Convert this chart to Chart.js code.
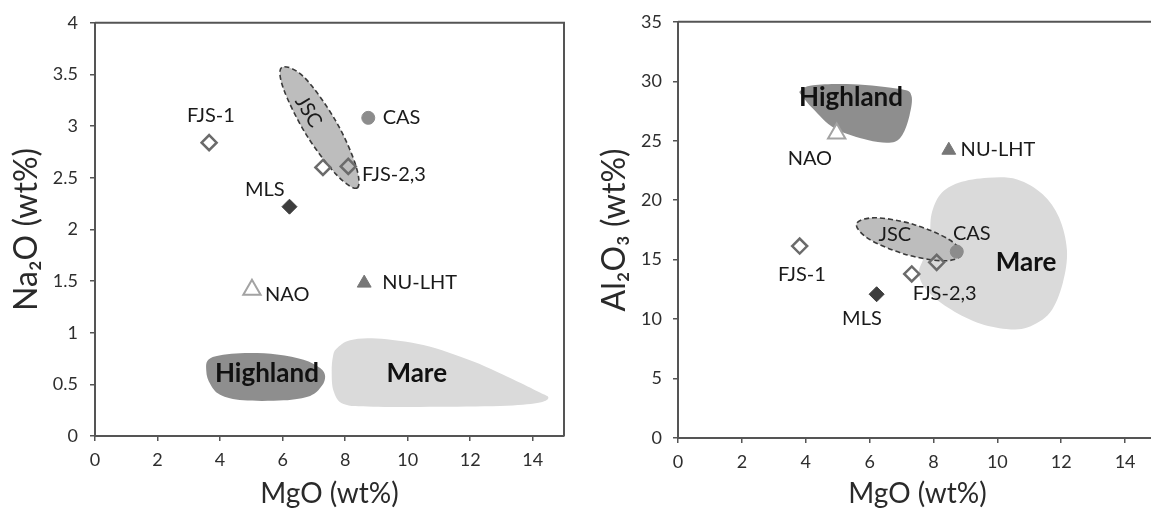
<!DOCTYPE html>
<html>
<head>
<meta charset="utf-8">
<script src="https://cdn.jsdelivr.net/npm/chart.js@4.4.1/dist/chart.umd.min.js"></script>
<style>
  html, body { margin: 0; padding: 0; background: #fff; overflow: hidden; }
  #wrap { position: relative; width: 1151px; height: 513px; overflow: hidden; }
  canvas { position: absolute; top: 0; }
  #naChart { left: 0; }
  #alChart { left: 580px; }
</style>
</head>
<body>
<div id="wrap">
  <canvas id="naChart" width="580" height="513"></canvas>
  <canvas id="alChart" width="600" height="513"></canvas>
</div>
<script>
'use strict';

const samples = ['FJS-1', 'FJS-2', 'FJS-3', 'MLS', 'CAS', 'NAO', 'NU-LHT'];

// left panel: MgO vs Na2O (wt%)
const mgoNa = [3.65, 7.29, 8.10, 6.22, 8.74, 5.02, 8.61];
const na2o  = [2.84, 2.60, 2.61, 2.22, 3.08, 1.415, 1.48];

// right panel: MgO vs Al2O3 (wt%)
const mgoAl = [3.81, 7.32, 8.10, 6.22, 8.73, 4.97, 8.48];
const al2o3 = [16.14, 13.8, 14.77, 12.09, 15.68, 25.6, 24.2];

const mgoTicks = [0, 2, 4, 6, 8, 10, 12, 14];
const naTicks  = [0, 0.5, 1, 1.5, 2, 2.5, 3, 3.5, 4];
const alTicks  = [0, 5, 10, 15, 20, 25, 30, 35];

// field outlines [MgO, oxide]
const highlandNa = [[3.69,0.753],[4.64,0.80],[5.82,0.79],[6.67,0.738],[7.20,0.658],[7.36,0.579],[7.25,0.483],
                    [6.88,0.388],[6.03,0.345],[4.75,0.345],[4.00,0.40],[3.69,0.50],[3.56,0.626]];
const mareNa = [[7.73,0.848],[8.16,0.928],[9.01,0.944],[10.50,0.88],[12.10,0.72],[13.49,0.53],[14.23,0.42],
                [14.50,0.372],[14.23,0.324],[13.17,0.293],[11.04,0.283],[8.90,0.283],[7.95,0.309],
                [7.63,0.436],[7.57,0.626],[7.61,0.77]];
const jscNa = [[8.38,2.40],[8.34,2.62],[7.70,3.05],[6.70,3.47],[5.98,3.57],[6.03,3.36],[6.75,2.92],[7.72,2.53]];

const highlandAl = [[3.83,29.20],[4.23,29.67],[5.48,29.75],[6.97,29.34],[7.31,28.78],[7.25,27.13],[7.02,25.47],
                    [6.68,24.86],[5.94,25.06],[4.91,26.02],[4.23,27.68],[3.88,28.78]];
const mareAl = [[8.22,20.50],[8.79,21.46],[9.71,21.88],[10.62,21.74],[11.42,20.50],[11.93,18.56],[12.18,15.80],
                [12.05,13.04],[11.65,10.55],[10.96,9.31],[10.28,9.17],[9.36,9.72],[8.45,10.97],[7.77,12.49],
                [7.54,13.87],[7.71,15.25],[7.88,16.91],[7.94,18.84]];
const jscAl = [[8.88,15.40],[8.30,14.90],[7.10,15.46],[5.97,16.75],[5.59,18.02],[6.18,18.52],[7.38,17.96],[8.50,16.67]];

// marker look per sample
const markerStyle = ['rectRot', 'rectRot', 'rectRot', 'rectRot', 'circle', 'triangle', 'triangle'];
const markerFill  = ['rgba(0,0,0,0)', 'rgba(0,0,0,0)', 'rgba(0,0,0,0)', '#3d3d3d', '#8c8c8c', '#ffffff', '#777777'];
const markerLine  = ['#6b6b6b', '#6b6b6b', '#6b6b6b', '#3d3d3d', '#8c8c8c', '#a3a3a3', '#777777'];
const markerSize  = [7.5, 7.5, 7.5, 7.5, 6.5, 10, 8];
const markerWidth = [2.5, 2.5, 2.5, 1, 1, 2, 1];

const AXIS = '#555555';
const INK = '#1a1a1a';

Chart.defaults.font.family = 'Lato, "Open Sans", sans-serif';
Chart.defaults.color = '#2e2e2e';

// closed Catmull-Rom curve through the outline points
function closedCurve(ctx, pts) {
  const n = pts.length;
  ctx.moveTo(pts[0][0], pts[0][1]);
  for (let i = 0; i < n; i++) {
    const p0 = pts[(i - 1 + n) % n], p1 = pts[i], p2 = pts[(i + 1) % n], p3 = pts[(i + 2) % n];
    ctx.bezierCurveTo(
      p1[0] + (p2[0] - p0[0]) / 6, p1[1] + (p2[1] - p0[1]) / 6,
      p2[0] - (p3[0] - p1[0]) / 6, p2[1] - (p3[1] - p1[1]) / 6,
      p2[0], p2[1]);
  }
  ctx.closePath();
}

const fieldPlugin = {
  id: 'fields',
  beforeDatasetsDraw(chart, args, opts) {
    const {ctx, chartArea: a, scales: {x, y}} = chart;
    ctx.save();
    ctx.beginPath();
    ctx.rect(a.left, a.top, a.right - a.left, a.bottom - a.top);
    ctx.clip();
    opts.fields.forEach(f => {
      const pts = f.outline.map(p => [x.getPixelForValue(p[0]), y.getPixelForValue(p[1])]);
      ctx.beginPath();
      closedCurve(ctx, pts);
      ctx.fillStyle = f.fill;
      ctx.fill();
      if (f.stroke) {
        ctx.setLineDash([5, 3]);
        ctx.lineWidth = 1.6;
        ctx.strokeStyle = f.stroke;
        ctx.stroke();
        ctx.setLineDash([]);
      }
    });
    ctx.restore();
  },
  afterDatasetsDraw(chart, args, opts) {
    const {ctx, chartArea: a, scales: {x, y}} = chart;
    ctx.save();
    opts.notes.forEach(n => {
      const [text, vx, vy, align, kind, rot] = n;
      ctx.save();
      ctx.translate(x.getPixelForValue(vx), y.getPixelForValue(vy));
      if (rot) ctx.rotate(rot * Math.PI / 180);
      ctx.font = kind === 'bold' ? 'bold 26px Lato, sans-serif' : '20px Lato, sans-serif';
      ctx.fillStyle = kind === 'bold' ? '#111' : INK;
      ctx.textAlign = align;
      ctx.textBaseline = 'middle';
      ctx.fillText(text, 0, 0);
      ctx.restore();
    });
    // top (and right) side of the plot box
    ctx.strokeStyle = AXIS;
    ctx.lineWidth = 2;
    ctx.beginPath();
    ctx.moveTo(a.left, a.top);
    ctx.lineTo(a.right, a.top);
    if (opts.rightSide) ctx.lineTo(a.right, a.bottom);
    ctx.stroke();
    ctx.restore();
  }
};

function buildChart(id, cfg) {
  const points = cfg.xs.map((v, i) => ({x: v, y: cfg.ys[i]}));
  return new Chart(document.getElementById(id), {
    type: 'scatter',
    data: {
      datasets: [{
        label: 'samples',
        data: points,
        pointStyle: markerStyle,
        backgroundColor: markerFill,
        borderColor: markerLine,
        pointRadius: markerSize,
        borderWidth: markerWidth
      }]
    },
    options: {
      responsive: false,
      animation: false,
      events: [],
      layout: { padding: cfg.pad },
      plugins: {
        legend: { display: false },
        tooltip: { enabled: false },
        fields: { fields: cfg.fields, notes: cfg.notes, rightSide: cfg.rightSide }
      },
      scales: {
        x: {
          type: 'linear', min: 0, max: 15,
          afterBuildTicks: s => { s.ticks = mgoTicks.map(v => ({value: v})); },
          afterFit: s => { s.height = cfg.xH; },
          grid: { drawOnChartArea: false, tickLength: 5, color: AXIS, lineWidth: 1.5 },
          border: { color: AXIS, width: 2 },
          ticks: { font: { size: 18 }, padding: 8, maxRotation: 0, callback: v => String(v) },
          title: { display: true, text: 'MgO (wt%)', font: { size: 28 }, color: '#2a2a2a', padding: { top: 0, bottom: 2 } }
        },
        y: {
          type: 'linear', min: 0, max: cfg.yMax,
          afterBuildTicks: s => { s.ticks = cfg.yTicks.map(v => ({value: v})); },
          afterFit: s => { s.width = cfg.yW; },
          grid: { drawOnChartArea: false, tickLength: 5, color: AXIS, lineWidth: 1.5 },
          border: { color: AXIS, width: 2 },
          ticks: { font: { size: 18 }, padding: cfg.yPad, callback: v => String(v) },
          title: { display: true, text: cfg.yTitle, font: { size: 32 }, color: '#2a2a2a', padding: { top: cfg.titlePad, bottom: 0 } }
        }
      }
    },
    plugins: [fieldPlugin]
  });
}

buildChart('naChart', {
  xs: mgoNa, ys: na2o, yMax: 4, yTicks: naTicks,
  yTitle: 'Na\u2082O (wt%)', rightSide: true,
  pad: { top: 16, right: 16, bottom: 0, left: 0 }, yW: 95, xH: 77, yPad: 12, titlePad: 7,
  fields: [
    { outline: mareNa, fill: '#dadada' },
    { outline: highlandNa, fill: '#8e8e8e' },
    { outline: jscNa, fill: '#bdbdbd', stroke: '#3a3a3a' }
  ],
  notes: [
    ['FJS-1', 3.71, 3.105, 'center'],
    ['CAS', 9.20, 3.085, 'left'],
    ['FJS-2,3', 8.54, 2.533, 'left'],
    ['MLS', 5.43, 2.39, 'center'],
    ['NAO', 5.44, 1.373, 'left'],
    ['NU-LHT', 9.19, 1.484, 'left'],
    ['JSC', 6.83, 3.14, 'center', 'plain', 58.5],
    ['Highland', 5.50, 0.60, 'center', 'bold'],
    ['Mare', 10.29, 0.60, 'center', 'bold']
  ]
});

buildChart('alChart', {
  xs: mgoAl, ys: al2o3, yMax: 35, yTicks: alTicks,
  yTitle: 'Al\u2082O\u2083 (wt%)', rightSide: false,
  pad: { top: 15, right: 23, bottom: 0, left: 0 }, yW: 98, xH: 75, yPad: 11, titlePad: 15,
  fields: [
    { outline: mareAl, fill: '#dadada' },
    { outline: highlandAl, fill: '#8e8e8e' },
    { outline: jscAl, fill: '#bdbdbd', stroke: '#3a3a3a' }
  ],
  notes: [
    ['FJS-1', 3.88, 13.74, 'center'],
    ['FJS-2,3', 7.35, 12.17, 'left'],
    ['MLS', 5.76, 10.02, 'center'],
    ['CAS', 9.20, 17.2, 'center'],
    ['JSC', 6.79, 17.1, 'center'],
    ['NAO', 4.13, 23.54, 'center'],
    ['NU-LHT', 8.85, 24.23, 'left'],
    ['Highland', 5.42, 28.6, 'center', 'bold'],
    ['Mare', 10.90, 14.77, 'center', 'bold']
  ]
});
</script>
</body>
</html>
